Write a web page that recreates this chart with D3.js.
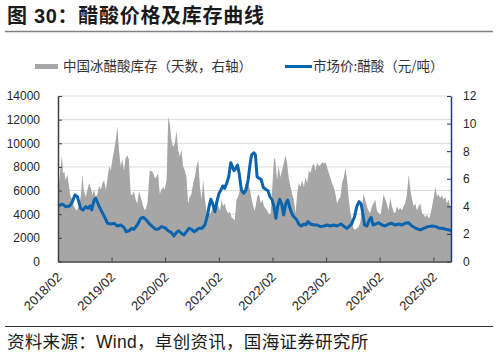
<!DOCTYPE html>
<html><head><meta charset="utf-8">
<script src="https://cdn.jsdelivr.net/npm/d3@7"></script>
<style>
body{margin:0;background:#fff}
svg{display:block}
</style>
</head><body>
<svg id="c" width="498" height="355"></svg>
<script>
// ---------------- DATA ----------------
const titleText = "图 30：醋酸价格及库存曲线";
const sourceText = "资料来源：Wind，卓创资讯，国海证券研究所";
const seriesNames = ["中国冰醋酸库存（天数，右轴）", "市场价:醋酸（元/吨）"];

const leftTicks = [0, 2000, 4000, 6000, 8000, 10000, 12000, 14000];
const rightTicks = [0, 2, 4, 6, 8, 10, 12];
const xTickDates = ["2018-02-01","2019-02-01","2020-02-01","2021-02-01","2022-02-01","2023-02-01","2024-02-01","2025-02-01"];
const xTickLabels = ["2018/02","2019/02","2020/02","2021/02","2022/02","2023/02","2024/02","2025/02"];

// 市场价:醋酸（元/吨）
const priceDates = ["2018-02-01","2018-03-03","2018-03-25","2018-04-22","2018-05-10","2018-05-27","2018-06-13","2018-07-05","2018-07-21","2018-08-09","2018-08-25","2018-09-08","2018-09-19","2018-10-05","2018-10-16","2018-11-04","2018-11-20","2018-12-12","2019-01-05","2019-01-27","2019-02-19","2019-03-12","2019-04-04","2019-04-26","2019-05-12","2019-05-30","2019-06-18","2019-07-03","2019-07-26","2019-08-18","2019-09-03","2019-09-21","2019-10-14","2019-11-06","2019-11-29","2019-12-14","2020-01-07","2020-01-30","2020-02-21","2020-03-14","2020-04-01","2020-04-17","2020-05-03","2020-05-21","2020-06-08","2020-06-25","2020-07-12","2020-07-29","2020-08-16","2020-09-02","2020-09-19","2020-10-10","2020-10-28","2020-11-13","2020-11-26","2020-12-08","2020-12-20","2021-01-05","2021-01-18","2021-02-02","2021-02-15","2021-02-28","2021-03-12","2021-03-26","2021-04-09","2021-04-23","2021-05-04","2021-05-15","2021-05-27","2021-06-08","2021-06-19","2021-07-04","2021-07-20","2021-08-05","2021-08-19","2021-08-30","2021-09-11","2021-09-27","2021-10-08","2021-10-19","2021-11-01","2021-11-16","2021-11-30","2021-12-16","2022-01-01","2022-01-15","2022-01-30","2022-02-11","2022-02-24","2022-03-08","2022-03-22","2022-04-05","2022-04-18","2022-05-02","2022-05-16","2022-05-29","2022-06-12","2022-06-26","2022-07-14","2022-07-30","2022-08-15","2022-09-03","2022-09-16","2022-09-30","2022-10-18","2022-11-10","2022-12-02","2022-12-25","2023-01-17","2023-02-09","2023-03-02","2023-03-25","2023-04-16","2023-05-13","2023-06-06","2023-06-23","2023-07-11","2023-07-26","2023-08-14","2023-08-29","2023-09-14","2023-09-28","2023-10-09","2023-10-21","2023-11-06","2023-11-22","2023-12-05","2023-12-18","2024-01-07","2024-01-25","2024-02-17","2024-03-09","2024-04-02","2024-04-24","2024-05-16","2024-06-09","2024-07-01","2024-07-23","2024-08-16","2024-09-08","2024-10-05","2024-11-04","2024-11-27","2024-12-26","2025-01-23","2025-02-19","2025-03-12","2025-04-05","2025-04-27","2025-05-19","2025-06-01"];
const priceValues = [4700,4860,4640,4700,5060,5630,5480,4500,4360,4640,4500,4700,4360,5200,5350,4780,4360,3850,3230,3170,3230,3000,3090,2890,2520,2600,2810,2720,3090,3650,3740,3570,3230,2950,2720,2720,2950,2860,2600,2440,2160,2440,2600,2390,2240,2520,2810,2720,2520,2670,2810,2810,3090,3790,4640,5260,4920,4210,5060,5770,6050,6390,6190,6620,7170,8360,8020,7680,7880,8160,7460,6050,5770,6050,6900,8020,9010,9200,9010,7170,7040,6950,6280,6110,5990,5480,5200,4640,3650,4640,5260,4860,3930,4860,5200,4580,4080,3790,3570,3170,3000,3170,3090,3370,3170,3090,3090,2950,3000,3090,3000,3090,3000,3170,2950,2810,3000,3200,3790,4640,5060,4860,4080,3090,3000,3510,3740,3090,3170,3280,3090,3000,3170,3230,3090,3170,3090,3230,3280,3000,2810,2670,2810,2950,3000,2950,2810,2810,2720,2670,2600];

// 中国冰醋酸库存（天数，右轴）
const invDates = ["2018-02-01","2018-02-19","2018-02-28","2018-03-07","2018-03-16","2018-03-25","2018-04-06","2018-04-17","2018-04-28","2018-05-10","2018-05-21","2018-06-07","2018-06-24","2018-07-08","2018-07-17","2018-07-28","2018-08-09","2018-08-21","2018-09-01","2018-09-13","2018-09-24","2018-10-05","2018-10-16","2018-10-28","2018-11-08","2018-11-20","2018-12-01","2018-12-12","2018-12-24","2019-01-05","2019-01-16","2019-01-27","2019-02-08","2019-02-19","2019-03-01","2019-03-12","2019-03-23","2019-04-04","2019-04-15","2019-04-26","2019-05-08","2019-05-19","2019-05-30","2019-06-11","2019-06-22","2019-07-03","2019-07-15","2019-07-26","2019-08-07","2019-08-18","2019-09-04","2019-09-17","2019-10-03","2019-10-19","2019-11-07","2019-11-25","2019-12-15","2019-12-26","2020-01-07","2020-01-18","2020-01-30","2020-02-11","2020-02-22","2020-03-03","2020-03-15","2020-03-26","2020-04-07","2020-04-18","2020-04-29","2020-05-11","2020-05-22","2020-06-02","2020-06-14","2020-06-25","2020-07-06","2020-07-18","2020-07-29","2020-08-10","2020-08-21","2020-09-02","2020-09-13","2020-09-25","2020-10-06","2020-10-17","2020-10-29","2020-11-10","2020-11-21","2020-12-02","2020-12-14","2020-12-25","2021-01-06","2021-01-17","2021-01-28","2021-02-09","2021-02-20","2021-03-01","2021-03-13","2021-03-24","2021-04-05","2021-04-16","2021-04-28","2021-05-09","2021-05-20","2021-06-01","2021-06-12","2021-06-24","2021-07-05","2021-07-16","2021-07-27","2021-08-09","2021-08-20","2021-09-01","2021-09-12","2021-09-23","2021-10-02","2021-10-09","2021-10-20","2021-11-01","2021-11-13","2021-11-24","2021-12-05","2021-12-27","2022-01-08","2022-01-20","2022-01-31","2022-02-11","2022-02-18","2022-02-24","2022-03-04","2022-03-15","2022-03-27","2022-04-07","2022-04-19","2022-04-30","2022-05-11","2022-05-22","2022-06-04","2022-06-15","2022-06-26","2022-07-08","2022-07-19","2022-07-30","2022-08-11","2022-08-22","2022-09-03","2022-09-14","2022-09-25","2022-10-07","2022-10-18","2022-10-29","2022-11-10","2022-11-21","2022-12-02","2022-12-14","2022-12-25","2023-01-06","2023-01-18","2023-01-29","2023-02-09","2023-02-20","2023-03-02","2023-03-13","2023-03-25","2023-04-06","2023-04-16","2023-04-28","2023-05-10","2023-05-21","2023-06-02","2023-06-13","2023-06-24","2023-07-06","2023-07-17","2023-07-28","2023-08-07","2023-08-18","2023-08-29","2023-09-10","2023-09-21","2023-10-03","2023-10-14","2023-10-25","2023-11-06","2023-11-17","2023-11-28","2023-12-10","2023-12-21","2024-01-02","2024-01-13","2024-01-25","2024-02-06","2024-02-17","2024-02-28","2024-03-10","2024-03-21","2024-04-02","2024-04-13","2024-04-24","2024-05-06","2024-05-17","2024-05-28","2024-06-09","2024-06-20","2024-07-02","2024-07-13","2024-07-24","2024-08-05","2024-08-17","2024-08-28","2024-09-09","2024-09-20","2024-10-01","2024-10-12","2024-10-24","2024-11-04","2024-11-16","2024-11-27","2024-12-08","2024-12-20","2025-01-01","2025-01-12","2025-01-23","2025-02-04","2025-02-15","2025-02-26","2025-03-08","2025-03-19","2025-03-31","2025-04-12","2025-04-23","2025-05-04","2025-05-15","2025-05-26","2025-06-01"];
const invDays = [4.8,6.9,7.7,6.4,6.5,5.9,6.3,5.4,4.7,4.5,4.0,3.7,4.0,4.9,6.3,5.1,4.7,5.2,5.7,5.3,4.8,5.2,4.7,4.9,5.5,5.2,5.7,5.9,5.2,6.1,6.9,6.6,7.5,8.1,8.8,9.8,8.1,6.9,7.4,6.6,7.5,7.7,7.4,4.9,4.8,5.1,4.5,4.2,5.1,4.7,4.0,3.7,4.2,6.6,6.5,6.0,6.4,4.9,5.2,5.4,5.2,6.0,10.5,10.0,8.8,8.3,8.6,9.5,8.1,7.6,8.1,6.9,6.6,6.1,4.2,4.7,4.9,5.7,6.1,6.9,7.4,5.4,4.5,5.9,4.5,3.5,3.7,3.4,3.7,4.0,3.7,4.2,4.0,3.7,4.5,4.0,4.2,3.7,3.5,3.6,3.2,3.1,3.0,4.5,4.7,5.2,5.7,4.9,5.4,5.9,5.7,5.2,4.5,4.0,3.7,4.0,4.7,4.9,4.2,4.5,4.0,3.7,3.4,3.5,5.4,7.4,7.5,6.9,5.9,6.9,6.1,6.6,7.1,7.7,7.2,6.1,5.4,4.9,4.5,3.5,4.9,5.7,5.4,5.9,5.4,6.1,5.7,6.6,6.4,6.9,7.1,6.6,7.2,6.9,7.0,7.2,7.1,7.2,6.8,6.4,6.1,5.7,5.4,4.9,4.2,4.5,4.7,5.7,6.1,6.8,5.9,4.5,3.5,3.0,2.4,2.3,2.4,2.5,2.8,3.7,4.9,4.5,4.0,3.7,3.5,4.0,4.2,4.5,3.7,3.5,3.4,4.0,4.9,4.5,4.2,3.7,4.6,4.0,3.6,3.5,4.0,3.7,3.9,3.7,4.0,4.2,4.9,6.3,5.2,4.5,4.0,4.2,3.7,4.0,4.2,3.5,3.4,3.2,3.4,3.1,3.4,4.0,4.7,5.4,4.7,4.9,4.6,4.8,4.5,4.7,4.2,4.5,4.0,4.0];

const xDomain = ["2018-02-01", "2025-06-01"];

// ---------------- DRAW ----------------
const parse = d3.timeParse("%Y-%m-%d");
const svg = d3.select("#c");
const L = 58, R = 451, T = 96, B = 261.5;
const numFont = "'Liberation Sans', Arial, 'Noto Sans CJK SC', sans-serif";
const cjkFont = "'Noto Sans CJK SC', 'Liberation Sans', sans-serif";

const x = d3.scaleTime().domain(xDomain.map(parse)).range([L, R]);
const yL = d3.scaleLinear().domain([0, 14000]).range([B, T]);
const yR = d3.scaleLinear().domain([0, 12]).range([B, T]);

// title
svg.append("text").attr("x", 7).attr("y", 23)
  .attr("font-family", "'Liberation Sans','Noto Sans CJK SC',sans-serif")
  .attr("font-weight", "bold").attr("font-size", 20).attr("letter-spacing", 0.7)
  .attr("fill", "#1a1a1a").text(titleText);
svg.append("line").attr("x1", 5).attr("x2", 493).attr("y1", 31.5).attr("y2", 31.5)
  .attr("stroke", "#808080").attr("stroke-width", 1.5);

// legend
svg.append("rect").attr("x", 35).attr("y", 64).attr("width", 23).attr("height", 5).attr("fill", "#a6a6a6");
svg.append("text").attr("x", 63).attr("y", 71).attr("font-family", cjkFont).attr("font-size", 13.5)
  .attr("fill", "#333").text(seriesNames[0]);
svg.append("line").attr("x1", 285).attr("x2", 312).attr("y1", 66.5).attr("y2", 66.5)
  .attr("stroke", "#0a63ad").attr("stroke-width", 3);
svg.append("text").attr("x", 313).attr("y", 71).attr("font-family", cjkFont).attr("font-size", 13.5)
  .attr("fill", "#333").text(seriesNames[1]);

// grid
svg.append("g").selectAll("line").data(leftTicks.filter(d => d > 0)).join("line")
  .attr("x1", L).attr("x2", R).attr("y1", d => yL(d)).attr("y2", d => yL(d))
  .attr("stroke", "#d9d9d9").attr("stroke-width", 1);

// inventory area (right axis)
const inv = invDates.map((d, i) => ({ date: parse(d), v: invDays[i] }));
svg.append("path").datum(inv)
  .attr("d", d3.area().x(d => x(d.date)).y0(yR(0)).y1(d => yR(d.v)))
  .attr("fill", "#a6a6a6");

// price line (left axis)
const price = priceDates.map((d, i) => ({ date: parse(d), v: priceValues[i] }));
svg.append("path").datum(price)
  .attr("d", d3.line().x(d => x(d.date)).y(d => yL(d.v)))
  .attr("fill", "none").attr("stroke", "#0a63ad").attr("stroke-width", 3)
  .attr("stroke-linejoin", "round");

// left axis
const gL = svg.append("g").attr("transform", `translate(${L},0)`)
  .call(d3.axisLeft(yL).tickValues(leftTicks).tickSizeInner(-4).tickSizeOuter(0).tickPadding(18).tickFormat(d3.format("d")));
gL.select(".domain").attr("stroke", "#404040").attr("stroke-width", 1.5);
gL.selectAll(".tick line").attr("stroke", "#404040");
gL.selectAll("text").attr("font-family", numFont).attr("font-size", 12).attr("fill", "#262626");

// right axis
const gR = svg.append("g").attr("transform", `translate(${R},0)`)
  .call(d3.axisRight(yR).tickValues(rightTicks).tickSizeInner(-4).tickSizeOuter(0).tickPadding(12));
gR.select(".domain").attr("stroke", "#1f3a7a").attr("stroke-width", 1.5);
gR.selectAll(".tick line").attr("stroke", "#1f3a7a");
gR.selectAll("text").attr("font-family", numFont).attr("font-size", 12).attr("fill", "#262626");

// bottom axis
const gB = svg.append("g").attr("transform", `translate(0,${B})`)
  .call(d3.axisBottom(x).tickValues(xTickDates.map(parse)).tickSizeInner(-4).tickSizeOuter(0)
    .tickFormat((d, i) => xTickLabels[i]));
gB.select(".domain").attr("stroke", "#404040").attr("stroke-width", 1.5);
gB.selectAll(".tick line").attr("stroke", "#404040");
gB.selectAll("text").attr("font-family", numFont).attr("font-size", 13).attr("fill", "#262626")
  .attr("y", 0).attr("dy", 0).attr("text-anchor", "end")
  .attr("transform", "translate(4,16.5) rotate(-45)");

// source
svg.append("line").attr("x1", 5).attr("x2", 493).attr("y1", 326.5).attr("y2", 326.5)
  .attr("stroke", "#333").attr("stroke-width", 1);
svg.append("text").attr("x", 7).attr("y", 348)
  .attr("font-family", "'Liberation Sans','Noto Sans CJK SC',sans-serif")
  .attr("font-size", 17.5).attr("letter-spacing", 0.3).attr("fill", "#1a1a1a").text(sourceText);
</script>
</body></html>
